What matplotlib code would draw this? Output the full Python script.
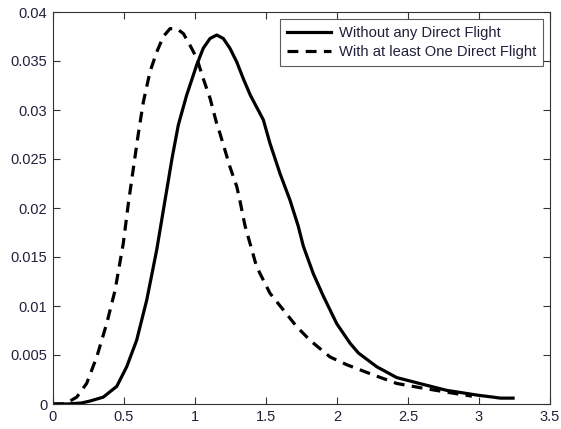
import matplotlib
matplotlib.use("Agg")
import matplotlib.pyplot as plt
from matplotlib.ticker import FuncFormatter

plt.rcParams['font.family'] = ['Liberation Sans', 'DejaVu Sans']

# values
x_none = [0.0, 0.10, 0.20, 0.26, 0.354, 0.449, 0.519, 0.589, 0.660, 0.730,
          0.789, 0.840, 0.883, 0.941, 1.012, 1.058, 1.106, 1.153, 1.199, 1.246,
          1.294, 1.340, 1.390, 1.481, 1.528, 1.599, 1.669, 1.728, 1.763, 1.833,
          1.904, 1.998, 2.092, 2.151, 2.28, 2.42, 2.58, 2.77, 2.99, 3.10,
          3.15, 3.24]
y_none = [0.0, 0.0, 0.0001, 0.0003, 0.0007, 0.0018, 0.0038, 0.0065, 0.0106, 0.0157,
          0.0208, 0.0252, 0.0285, 0.0315, 0.0346, 0.0363, 0.0373, 0.03765, 0.0373, 0.0363,
          0.0349, 0.0332, 0.0315, 0.0290, 0.0266, 0.0235, 0.0208, 0.0181, 0.0161, 0.0133,
          0.0110, 0.0082, 0.0062, 0.0052, 0.0038, 0.0027, 0.0021, 0.0014, 0.0009, 0.0007,
          0.0006, 0.0006]

x_direct = [0.0, 0.06, 0.096, 0.167, 0.237, 0.308, 0.378, 0.437, 0.495, 0.531,
            0.600, 0.636, 0.683, 0.730, 0.777, 0.824, 0.871, 0.918, 0.965, 1.012,
            1.058, 1.106, 1.153, 1.176, 1.246, 1.294, 1.317, 1.352, 1.434, 1.528,
            1.622, 1.716, 1.81, 1.951, 2.07, 2.25, 2.42, 2.61, 2.82, 2.95]
y_direct = [0.0, 0.0, 0.0001, 0.0007, 0.0021, 0.0048, 0.0082, 0.0116, 0.0164, 0.0205,
            0.0275, 0.0308, 0.0339, 0.0359, 0.0375, 0.0383, 0.0383, 0.0378, 0.0366, 0.0353,
            0.0332, 0.0312, 0.0286, 0.0276, 0.0242, 0.0222, 0.0207, 0.0182, 0.0140, 0.0113,
            0.0096, 0.0079, 0.0065, 0.0048, 0.0040, 0.0030, 0.0021, 0.0016, 0.0011, 0.0008]

x_ticks = [0, 0.5, 1, 1.5, 2, 2.5, 3, 3.5]
y_ticks = [0, 0.005, 0.01, 0.015, 0.02, 0.025, 0.03, 0.035, 0.04]

fig = plt.figure(figsize=(5.61, 4.29), dpi=100)
ax = fig.add_axes([53 / 561, 25 / 429, 497 / 561, 392 / 429])

ax.plot(x_none, y_none, color='black', lw=2.3, label='Without any Direct Flight')
ax.plot(x_direct, y_direct, color='black', lw=2.3, ls=(0, (3.4, 2.3)),
        label='With at least One Direct Flight')

ax.set_xlim(0, 3.5)
ax.set_ylim(0, 0.04)
ax.set_xticks(x_ticks)
ax.set_yticks(y_ticks)
ax.xaxis.set_major_formatter(FuncFormatter(lambda v, p: '%g' % v))
ax.yaxis.set_major_formatter(FuncFormatter(lambda v, p: '%g' % round(v, 4)))
ax.tick_params(direction='in', top=True, right=True, length=5, width=0.8,
               labelsize=10.5, labelcolor='#20203a', color='#333333', pad=4)
for s in ax.spines.values():
    s.set_color('#333333')
    s.set_linewidth(0.8)

leg = ax.legend(loc='upper right', fontsize=10.6, frameon=True, fancybox=False,
                edgecolor='#333333', handlelength=3.0, borderaxespad=0.5,
                borderpad=0.45, labelspacing=0.35, handletextpad=0.55)
leg.get_frame().set_linewidth(0.8)
for t in leg.get_texts():
    t.set_color('#20203a')

fig.savefig('out.png', dpi=100)
